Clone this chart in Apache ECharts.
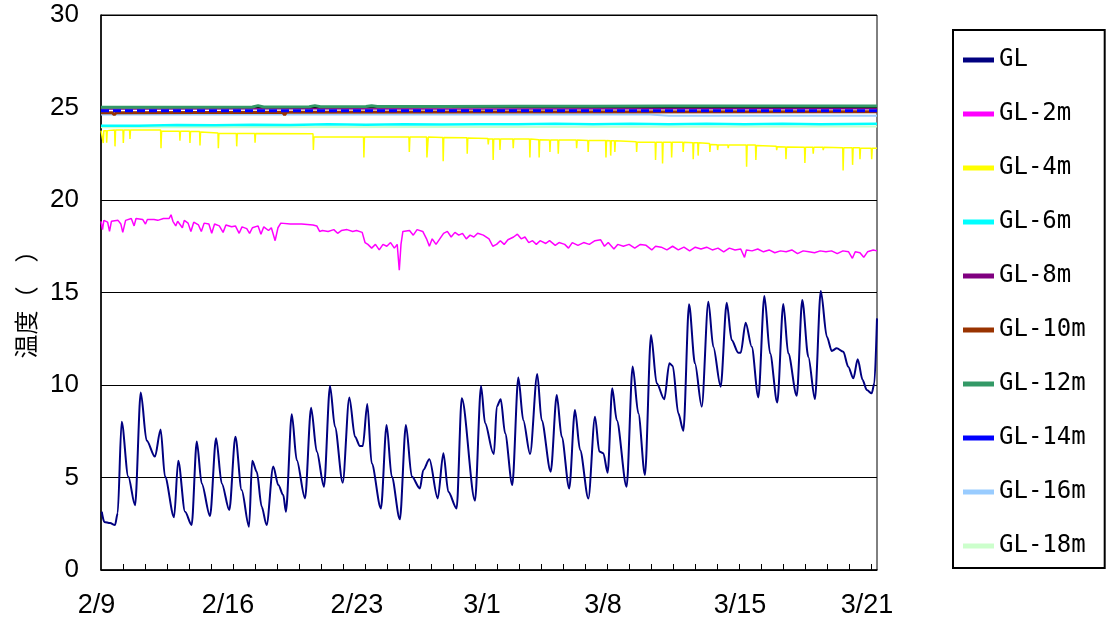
<!DOCTYPE html>
<html><head><meta charset="utf-8">
<script src="https://cdn.jsdelivr.net/npm/echarts@6/dist/echarts.min.js"></script>
<style>html,body{margin:0;padding:0;background:#fff}#c{width:1107px;height:625px}</style>
</head><body><div id="c"></div>
<script>
// x values are days elapsed since 2/9 00:00
const seriesNames = ['GL','GL-2m','GL-4m','GL-6m','GL-8m','GL-10m','GL-12m','GL-14m','GL-16m','GL-18m'];
const seriesColors = ['#000080','#FF00FF','#FFFF00','#00FFFF','#800080','#993300','#339966','#0000FF','#99CCFF','#CCFFCC'];
const xLabels = ['2/9','2/16','2/23','3/1','3/8','3/15','3/21'];
const xLabelPos = [0, 6.71, 13.52, 20.13, 26.52, 33.76, 40.47];
const yTicks = [0,5,10,15,20,25,30];

const GL = [[0.04,3.15],[0.17,2.6],[0.48,2.54],[0.74,2.43],[0.88,3.07],[1.09,8.02],[1.44,5.05],[1.80,3.5],[2.10,9.59],[2.41,7.0],[2.85,6.13],[3.15,7.6],[3.38,5.05],[3.86,2.85],[4.08,5.91],[4.44,3.15],[4.79,2.43],[5.06,6.94],[5.32,4.68],[5.76,2.92],[6.08,7.12],[6.38,4.68],[6.78,3.24],[7.10,7.2],[7.43,4.32],[7.82,2.34],[7.99,5.91],[8.23,5.31],[8.49,3.42],[8.75,2.43],[9.10,5.59],[9.37,4.59],[9.63,4.05],[9.77,3.15],[10.08,8.42],[10.34,5.95],[10.78,3.87],[11.10,8.77],[11.40,6.4],[11.78,4.5],[12.10,9.95],[12.36,7.75],[12.77,4.72],[13.12,9.33],[13.42,7.2],[13.68,6.7],[13.83,6.7],[14.07,8.97],[14.30,5.77],[14.79,3.33],[15.09,7.84],[15.36,5.05],[15.79,2.74],[16.11,7.84],[16.42,5.05],[16.85,4.41],[17.03,5.41],[17.35,5.98],[17.79,3.87],[18.09,6.31],[18.35,4.23],[18.79,3.33],[19.06,9.28],[19.76,3.75],[20.08,9.95],[20.29,7.95],[20.73,6.31],[20.76,6.27],[20.91,8.83],[21.12,9.23],[21.35,7.39],[21.73,4.59],[22.05,10.4],[22.31,8.1],[22.67,6.27],[23.05,10.6],[23.28,8.1],[23.76,5.31],[24.08,9.46],[24.34,7.2],[24.74,4.41],[25.04,8.65],[25.31,6.49],[25.75,3.87],[26.10,8.29],[26.33,6.4],[26.54,6.31],[26.77,5.26],[27.01,9.82],[27.25,8.1],[27.77,4.5],[28.09,11.0],[28.39,8.47],[28.74,5.14],[29.06,12.7],[29.36,10.09],[29.76,9.23],[30.03,11.17],[30.21,11.03],[30.50,8.47],[30.77,7.53],[31.07,14.36],[31.38,11.17],[31.74,8.83],[32.09,14.5],[32.35,12.07],[32.74,9.91],[33.06,14.45],[33.32,12.43],[33.67,11.75],[33.80,11.75],[34.06,13.37],[34.38,12.07],[34.73,9.33],[35.05,14.81],[35.35,11.71],[35.73,9.05],[36.05,14.38],[36.31,11.71],[36.76,9.42],[37.05,14.6],[37.37,11.53],[37.72,9.24],[38.03,15.08],[38.35,12.61],[38.61,11.84],[38.87,11.98],[39.22,11.8],[39.48,10.99],[39.75,10.36],[39.98,11.39],[40.24,10.27],[40.46,9.73],[40.72,9.55],[40.86,10.09],[41.0,13.6]];

const GL2 = [[0,18.85],[0.08,18.4],[0.15,18.9],[0.35,18.8],[0.45,18.3],[0.55,18.85],[0.9,18.9],[1.05,18.7],[1.15,18.25],[1.3,18.9],[1.6,19.0],[1.75,18.6],[1.85,19.0],[2.2,18.95],[2.35,18.7],[2.45,18.95],[2.8,18.95],[3.0,18.9],[3.3,19.0],[3.6,19.0],[3.7,19.2],[3.8,18.85],[3.95,18.6],[4.05,18.85],[4.3,18.5],[4.4,18.9],[4.6,18.75],[4.75,18.3],[4.9,18.8],[5.15,18.65],[5.3,18.3],[5.45,18.75],[5.7,18.7],[5.85,18.2],[6.0,18.7],[6.25,18.6],[6.45,18.25],[6.6,18.65],[6.9,18.55],[7.1,18.6],[7.3,18.2],[7.45,18.55],[7.7,18.45],[7.85,18.2],[8.0,18.5],[8.3,18.6],[8.45,18.15],[8.6,18.55],[8.85,18.35],[9.0,18.5],[9.2,17.8],[9.35,18.5],[9.5,18.75],[10.0,18.7],[10.6,18.7],[11.2,18.65],[11.4,18.6],[11.55,18.3],[11.7,18.35],[12.0,18.3],[12.3,18.4],[12.5,18.2],[12.7,18.35],[13.0,18.4],[13.3,18.3],[13.5,18.35],[13.8,18.25],[13.95,17.7],[14.1,17.6],[14.3,17.4],[14.5,17.6],[14.7,17.3],[14.9,17.6],[15.1,17.5],[15.3,17.7],[15.5,17.4],[15.65,17.6],[15.76,16.2],[15.85,17.6],[15.95,18.3],[16.3,18.35],[16.5,18.1],[16.7,18.4],[17.0,18.3],[17.2,17.9],[17.35,17.5],[17.5,17.9],[17.7,17.6],[17.9,17.9],[18.1,18.2],[18.3,18.3],[18.5,18.0],[18.7,18.25],[18.9,18.1],[19.1,18.2],[19.3,17.9],[19.5,18.1],[19.7,18.0],[19.9,18.2],[20.2,18.1],[20.5,17.9],[20.7,17.5],[20.9,17.6],[21.1,17.8],[21.3,17.6],[21.5,17.85],[21.8,18.0],[22.0,18.15],[22.2,17.9],[22.4,18.0],[22.6,17.7],[22.8,17.8],[23.0,17.6],[23.2,17.8],[23.5,17.65],[23.7,17.8],[24.0,17.55],[24.2,17.7],[24.5,17.6],[24.7,17.4],[24.9,17.7],[25.2,17.55],[25.5,17.7],[25.8,17.6],[26.1,17.8],[26.4,17.85],[26.6,17.5],[26.8,17.7],[27.1,17.35],[27.3,17.6],[27.6,17.5],[27.9,17.6],[28.2,17.4],[28.5,17.6],[28.8,17.55],[29.1,17.3],[29.3,17.5],[29.6,17.45],[29.9,17.3],[30.2,17.5],[30.5,17.3],[30.8,17.45],[31.1,17.25],[31.4,17.45],[31.7,17.35],[32.0,17.45],[32.3,17.3],[32.6,17.4],[32.9,17.2],[33.2,17.4],[33.5,17.3],[33.8,17.35],[34.0,16.9],[34.1,17.3],[34.4,17.25],[34.7,17.35],[35.0,17.2],[35.3,17.3],[35.6,17.15],[35.9,17.25],[36.2,17.2],[36.5,17.3],[36.8,17.1],[37.1,17.25],[37.4,17.2],[37.7,17.15],[38.0,17.25],[38.3,17.2],[38.6,17.25],[38.9,17.1],[39.2,17.25],[39.5,17.2],[39.7,16.85],[39.85,17.2],[40.1,17.15],[40.3,16.9],[40.5,17.2],[40.8,17.3],[41,17.25]];

const GL4 = [[0,23.75],[0.1,23.75],[0.12,23.08],[0.15,23.75],[0.28,23.75],[0.30,23.1],[0.33,23.75],[0.72,23.78],[0.74,22.9],[0.77,23.78],[1.16,23.78],[1.18,23.08],[1.21,23.78],[1.51,23.78],[1.53,23.3],[1.56,23.78],[3.15,23.78],[3.17,22.8],[3.2,23.72],[4.15,23.72],[4.17,23.2],[4.2,23.72],[4.68,23.72],[4.7,23.08],[4.73,23.7],[5.21,23.7],[5.23,22.95],[5.26,23.68],[6.18,23.62],[6.2,22.8],[6.23,23.6],[7.15,23.6],[7.17,22.9],[7.2,23.6],[8.12,23.6],[8.14,23.1],[8.17,23.6],[11.2,23.58],[11.22,22.7],[11.25,23.4],[13.87,23.4],[13.89,22.3],[13.92,23.4],[16.27,23.4],[16.29,22.6],[16.32,23.4],[17.2,23.4],[17.22,22.3],[17.26,22.3],[17.29,23.4],[18.06,23.38],[18.08,22.1],[18.11,23.38],[19.33,23.36],[19.35,22.5],[19.38,23.35],[20.44,23.33],[20.46,23.0],[20.49,23.3],[20.7,23.3],[20.72,22.16],[20.75,23.3],[21.06,23.3],[21.08,22.7],[21.11,23.3],[21.76,23.3],[21.78,22.8],[21.81,23.3],[22.64,23.3],[22.66,22.3],[22.69,23.3],[23.13,23.26],[23.15,22.3],[23.18,23.26],[23.7,23.24],[23.72,22.6],[23.75,23.24],[24.14,23.24],[24.16,22.5],[24.19,23.24],[25.11,23.24],[25.13,22.8],[25.16,23.24],[25.72,23.22],[25.74,22.6],[25.77,23.22],[26.66,23.22],[26.68,22.3],[26.71,23.22],[26.91,23.2],[26.93,22.4],[26.96,23.2],[27.13,23.2],[27.15,22.6],[27.18,23.2],[28.28,23.15],[28.3,22.6],[28.33,23.12],[29.28,23.12],[29.3,22.16],[29.33,23.12],[29.65,23.12],[29.67,21.97],[29.7,23.12],[30.13,23.12],[30.15,22.3],[30.18,23.12],[30.74,23.12],[30.76,22.6],[30.79,23.12],[31.27,23.1],[31.29,22.2],[31.32,23.1],[31.53,23.1],[31.55,22.4],[31.58,23.1],[32.15,23.05],[32.17,22.6],[32.2,23.0],[32.56,22.98],[32.58,22.7],[32.61,22.97],[33.12,22.97],[33.14,22.8],[33.17,22.97],[34.09,22.97],[34.11,21.8],[34.14,22.97],[34.58,22.97],[34.6,22.16],[34.63,22.95],[35.68,22.9],[35.7,22.7],[35.73,22.88],[36.17,22.87],[36.19,22.2],[36.22,22.86],[37.17,22.85],[37.19,22.0],[37.22,22.85],[37.61,22.85],[37.63,22.5],[37.66,22.85],[38.14,22.85],[38.16,22.7],[38.19,22.85],[39.19,22.83],[39.21,21.6],[39.24,22.83],[39.69,22.83],[39.71,21.9],[39.74,22.82],[40.08,22.82],[40.1,22.2],[40.13,22.8],[40.7,22.8],[40.72,22.2],[40.75,22.8],[41,22.8]];

const GL6 = [[0,24.02],[2,24.02],[4,24.05],[6,24.04],[8,24.07],[10,24.06],[12,24.09],[14,24.07],[16,24.1],[18,24.08],[20,24.1],[22,24.09],[24,24.12],[26,24.1],[28,24.12],[30,24.1],[32,24.12],[34,24.1],[36,24.12],[38,24.1],[41,24.12]];
const GL8 = [[0,24.92],[10,24.93],[20,24.92],[30,24.93],[41,24.93]];
const GL10 = [[0,24.72],[0.6,24.72],[0.7,24.6],[0.8,24.72],[9.6,24.74],[9.7,24.6],[9.8,24.75],[20,24.76],[41,24.77]];
const GL12 = [[0,25.02],[8,25.03],[8.3,25.1],[8.6,25.03],[11,25.04],[11.3,25.1],[11.6,25.04],[14,25.05],[14.3,25.1],[14.6,25.05],[18,25.06],[22,25.07],[26,25.07],[30,25.08],[34,25.08],[38,25.08],[41,25.08]];
const GL14 = [[0,24.82],[20,24.83],[41,24.83]];
const GL16 = [[0,24.62],[29,24.62],[30,24.56],[41,24.56]];
const GL18 = [[0,23.93],[20,23.95],[41,23.97]];

const seriesData = [GL, GL2, GL4, GL6, GL8, GL10, GL12, GL14, GL16, GL18];
const seriesWidth = [2, 1.5, 1.5, 2.5, 1.5, 3, 3, 3, 2, 2];
const seriesDash = [null, null, null, null, null, null, null, [8,4], null, null];
const seriesSmooth = [0.3, false, false, false, false, false, false, false, false, false];
const drawOrder = [9, 8, 3, 2, 1, 4, 5, 7, 6, 0];

const chart = echarts.init(document.getElementById('c'), null, {renderer:'canvas'});
const tickStep = 22 / 776 * 41;
const tickVals = [];
for (let k = 1; k * tickStep < 41; k++) tickVals.push(k * tickStep);

const series = drawOrder.map(i => ({
  name: seriesNames[i], type: 'line', data: seriesData[i], showSymbol: false, symbol: 'none',
  color: seriesColors[i], smooth: seriesSmooth[i], smoothMonotone: 'x',
  lineStyle: {color: seriesColors[i], width: seriesWidth[i], type: seriesDash[i] || 'solid'},
  animation: false, z: 2
}));

chart.setOption({
  animation: false,
  backgroundColor: '#fff',
  grid: {left: 101, top: 15, width: 776, height: 555, show: true, borderColor: '#000', borderWidth: 1, containLabel: false},
  xAxis: {
    type: 'value', min: 0, max: 41,
    axisLine: {show: true, onZero: false, lineStyle: {color: '#000', width: 1.5}},
    axisTick: {show: true, inside: true, length: 6, customValues: tickVals, lineStyle: {color: '#000'}},
    axisLabel: {
      customValues: xLabelPos, margin: 22, color: '#000', fontSize: 27, fontFamily: 'Liberation Sans',
      formatter: v => { const i = xLabelPos.findIndex(p => Math.abs(p - v) < 1e-6); return i === 0 ? '{l|' + xLabels[0] + '}' : (i >= 0 ? xLabels[i] : ''); },
      rich: {l: {fontSize: 27, fontFamily: 'Liberation Sans', color: '#000', padding: [0, 9, 0, 0]}}
    },
    splitLine: {show: false}
  },
  yAxis: {
    type: 'value', min: yTicks[0], max: yTicks[yTicks.length - 1], interval: 5,
    axisLine: {show: true, lineStyle: {color: '#000', width: 1.5}},
    axisTick: {show: false},
    axisLabel: {margin: 22, color: '#000', fontSize: 26, fontFamily: 'Liberation Sans', padding: [5, 0, 0, 0]},
    splitLine: {show: true, lineStyle: {color: '#000', width: 1}},
    name: '温度（　）', nameLocation: 'middle', nameRotate: 90, nameGap: 63,
    nameTextStyle: {color: '#000', fontSize: 24, fontFamily: 'Noto Sans CJK JP', padding: [0, 12, 0, 0]}
  },
  legend: {
    orient: 'vertical', left: 953, top: 30, padding: [18, 19, 10, 10],
    borderColor: '#000', borderWidth: 2, backgroundColor: '#fff',
    itemWidth: 31, itemHeight: 5, itemGap: 30,
    icon: 'rect',
    data: seriesNames.map((n, i) => ({name: n, itemStyle: {color: seriesColors[i]}})),
    textStyle: {color: '#000', fontSize: 24, lineHeight: 24, fontFamily: 'DejaVu Sans Mono'}
  },
  series: series
});
</script></body></html>
